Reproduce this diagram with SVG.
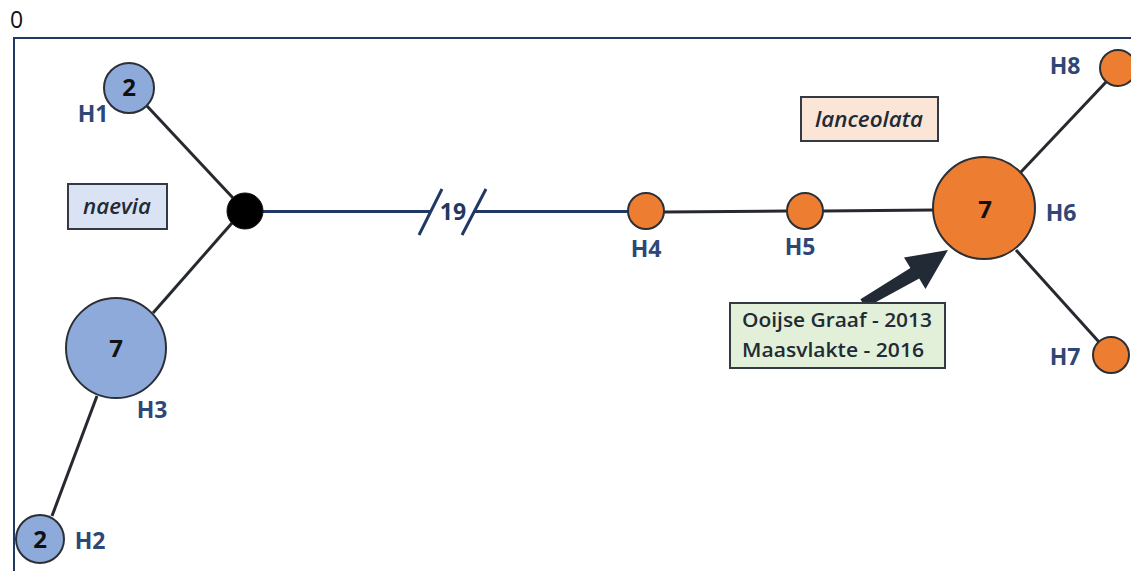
<svg xmlns="http://www.w3.org/2000/svg" width="1131" height="571" viewBox="0 0 1131 571">
<style>
.lbl{font-family:"Open Sans","Liberation Sans",sans-serif;font-weight:bold;font-size:23px;fill:#2f4776;text-anchor:middle}
.num{font-family:"Open Sans","Liberation Sans",sans-serif;font-weight:bold;font-size:24px;fill:#111;text-anchor:middle}
.blue{fill:#8eaadb;stroke:#2b2f36;stroke-width:2}
.orange{fill:#ed7d31;stroke:#2b2f36;stroke-width:2}
.edge{stroke:#262a30;stroke-width:3;fill:none}
.bedge{stroke:#1f3864;stroke-width:3;fill:none}
.box{stroke:#333a44;stroke-width:2}
.it{font-family:"Open Sans","Liberation Sans",sans-serif;font-style:italic;font-weight:600;font-size:22px;fill:#222a35;text-anchor:middle}
.note{font-family:"Open Sans","Liberation Sans",sans-serif;font-weight:600;font-size:20px;fill:#222a35}
</style>
<rect width="1131" height="571" fill="#fff"/>
<text x="10" y="28" font-family="Open Sans, Liberation Sans, sans-serif" font-size="23" fill="#111">0</text>
<path d="M14,571 V38 H1131" fill="none" stroke="#1f3864" stroke-width="2"/>
<g id="connectors">
<line class="edge" x1="147" y1="106" x2="233" y2="198"/>
<line class="edge" x1="232" y1="223" x2="153" y2="313"/>
<line class="edge" x1="97" y1="396" x2="52" y2="516"/>
<path class="bedge" d="M263,211.5 H431 M474,211.5 H628"/>
<line class="bedge" x1="419" y1="235" x2="442" y2="189"/>
<line class="bedge" x1="462" y1="235" x2="486" y2="189"/>
<text x="453" y="220" class="lbl" style="fill:#1f3864">19</text>
<line class="edge" x1="664" y1="212" x2="787" y2="211"/>
<line class="edge" x1="823" y1="211" x2="934" y2="210"/>
<line class="edge" x1="1020" y1="173" x2="1107" y2="81"/>
<line class="edge" x1="1016" y1="250" x2="1099" y2="342"/>
<polygon points="860.4,299.2 910.4,268.0 904.0,257.6 948,250 925.5,289.0 919.2,278.5 865.6,307.7" fill="#222a35"/>
</g>
<g id="naevia"><rect class="box" x="68" y="184" width="99" height="45" fill="#dae3f3"/><text class="it" x="117" y="214" textLength="68" lengthAdjust="spacingAndGlyphs">naevia</text></g>
<g id="lanceolata"><rect class="box" x="801" y="97" width="137" height="44" fill="#fbe5d6"/><text class="it" x="869" y="127" textLength="108" lengthAdjust="spacingAndGlyphs">lanceolata</text></g>
<g id="H1"><circle class="blue" cx="129" cy="88" r="25"/><text class="num" x="129" y="96">2</text><text class="lbl" x="93" y="122">H1</text></g>
<g id="center"><circle cx="245" cy="211" r="18" fill="#000" stroke="#111" stroke-width="1"/></g>
<g id="H3"><circle class="blue" cx="116" cy="348" r="50"/><text class="num" x="116" y="357">7</text><text class="lbl" x="152" y="418">H3</text></g>
<g id="H2"><circle class="blue" cx="40" cy="539" r="24"/><text class="num" x="40" y="548">2</text><text class="lbl" x="90" y="549">H2</text></g>
<g id="H4"><circle class="orange" cx="646" cy="211" r="18"/><text class="lbl" x="646" y="257">H4</text></g>
<g id="H5"><circle class="orange" cx="805" cy="211" r="18"/><text class="lbl" x="800" y="255">H5</text></g>
<g id="H6"><circle class="orange" cx="984" cy="208" r="51"/><text class="num" x="985" y="218">7</text><text class="lbl" x="1061" y="221">H6</text></g>
<g id="H8"><circle class="orange" cx="1118" cy="68" r="18"/><text class="lbl" x="1065" y="74">H8</text></g>
<g id="H7"><circle class="orange" cx="1111" cy="355" r="18"/><text class="lbl" x="1065" y="365">H7</text></g>
<g id="note"><rect class="box" x="730" y="303" width="215" height="65" fill="#e2f0d9"/>
<text class="note" x="742" y="327" textLength="190" lengthAdjust="spacingAndGlyphs">Ooijse Graaf - 2013</text>
<text class="note" x="742" y="357" textLength="182" lengthAdjust="spacingAndGlyphs">Maasvlakte - 2016</text></g>
</svg>
